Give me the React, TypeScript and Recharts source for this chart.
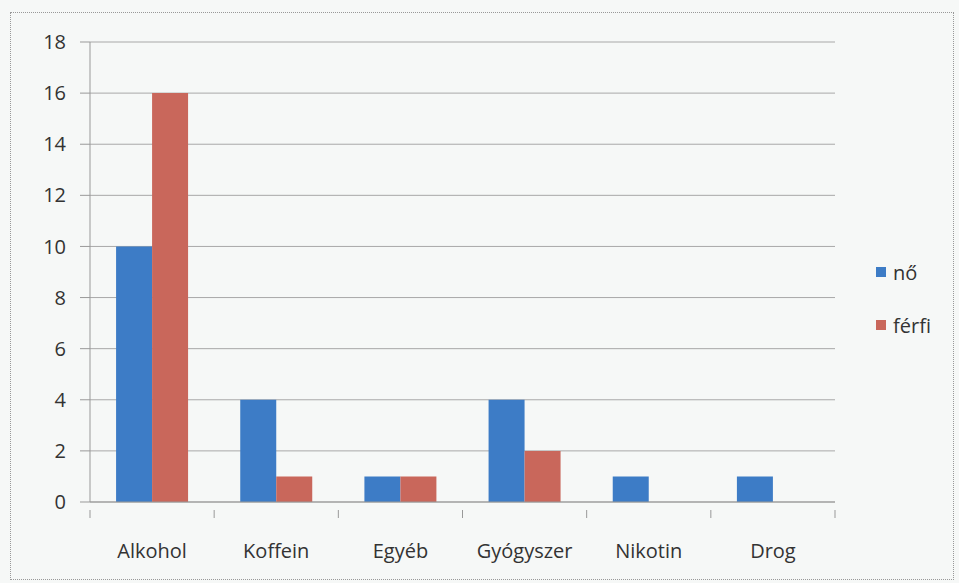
import { BarChart, Bar, XAxis, YAxis, CartesianGrid } from 'recharts';

const categories = ['Alkohol', 'Koffein', 'Egyéb', 'Gyógyszer', 'Nikotin', 'Drog'];
const noValues = [10, 4, 1, 4, 1, 1];
const ferfiValues = [16, 1, 1, 2, 0, 0];
const yTicks = [0, 2, 4, 6, 8, 10, 12, 14, 16, 18];

const data = categories.map((name, i) => ({ name, no: noValues[i], ferfi: ferfiValues[i] }));

const FONT = 'Open Sans, Noto Sans, sans-serif';
const BLUE = '#3d7cc6';
const RED = '#c9675b';
const PLOT_W = 835 - 90;
const BAND = PLOT_W / categories.length;

const XTick = (props: any) => {
  const { x, y, payload, index } = props;
  const left = x - BAND / 2;
  return (
    <g>
      <line x1={left} y1={y} x2={left} y2={y + 8} stroke="#999" />
      {index === categories.length - 1 && (
        <line x1={left + BAND} y1={y} x2={left + BAND} y2={y + 8} stroke="#999" />
      )}
      <text x={x} y={y + 48} textAnchor="middle" fontSize={20} fill="#333" fontFamily={FONT}>
        {payload.value}
      </text>
    </g>
  );
};

const LegendBox = () => (
  <div style={{ position: 'absolute', left: 876, top: 258, fontFamily: FONT, fontSize: 20, color: '#333' }}>
    {[['nő', BLUE], ['férfi', RED]].map(([label, color], i) => (
      <div key={label} style={{ display: 'flex', alignItems: 'center', height: 28, marginTop: i ? 25 : 0 }}>
        <span style={{ width: 10, height: 10, background: color, marginRight: 7, display: 'inline-block' }} />
        {label}
      </div>
    ))}
  </div>
);

export default function App() {
  return (
    <div style={{ position: 'absolute', left: 0, top: 0, width: 959, height: 583, background: '#f6f8f7' }}>
      <div style={{ position: 'absolute', left: 10, top: 12, width: 944, height: 568, border: '1px dotted #999', boxSizing: 'border-box' }} />
      <BarChart
        width={959}
        height={583}
        data={data}
        margin={{ top: 42, right: 124, bottom: 0, left: 30 }}
        barCategoryGap="21%"
        barGap={0}
      >
        <CartesianGrid vertical={false} stroke="#a8a8a8" />
        <XAxis
          dataKey="name"
          tick={<XTick />}
          tickLine={false}
          axisLine={{ stroke: '#999' }}
          interval={0}
          height={81}
        />
        <YAxis
          domain={[0, 18]}
          ticks={yTicks}
          width={60}
          tickSize={10}
          tickMargin={14}
          tickLine={{ stroke: '#999' }}
          axisLine={{ stroke: '#999' }}
          tick={{ fontSize: 20, fill: '#333', fontFamily: FONT }}
        />
        <Bar dataKey="no" name="nő" fill={BLUE} isAnimationActive={false} />
        <Bar dataKey="ferfi" name="férfi" fill={RED} isAnimationActive={false} />
      </BarChart>
      <LegendBox />
    </div>
  );
}
